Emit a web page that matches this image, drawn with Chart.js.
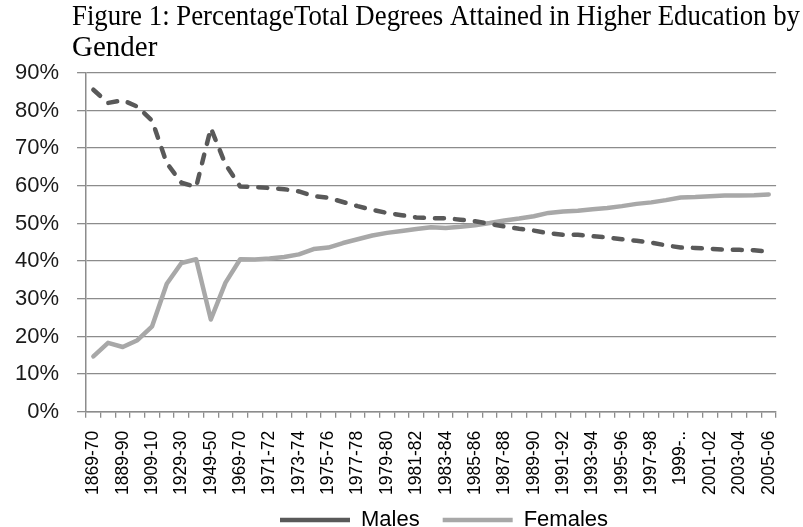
<!DOCTYPE html>
<html>
<head>
<meta charset="utf-8">
<script src="https://cdn.jsdelivr.net/npm/chart.js@4.4.0/dist/chart.umd.min.js"></script>
<style>
html,body{margin:0;padding:0;background:#ffffff;}
#wrap{width:803px;height:527px;position:relative;}
</style>
</head>
<body>
<div id="wrap"><canvas id="c" width="803" height="527"></canvas></div>
<script>
const titleLines = ["Figure 1: PercentageTotal Degrees Attained in Higher Education by", "Gender"];

const categories = [
  "1869-70","1879-80","1889-90","1899-1900","1909-10","1919-20","1929-30","1939-40","1949-50","1959-60","1969-70",
  "1970-71","1971-72","1972-73","1973-74","1974-75","1975-76","1976-77","1977-78","1978-79","1979-80",
  "1980-81","1981-82","1982-83","1983-84","1984-85","1985-86","1986-87","1987-88","1988-89","1989-90",
  "1990-91","1991-92","1992-93","1993-94","1994-95","1995-96","1996-97","1997-98","1998-99","1999-2000",
  "2000-01","2001-02","2002-03","2003-04","2004-05","2005-06"
];

const males = [
  85.5, 82.0, 82.7, 81.0, 77.3, 66.0, 60.8, 59.7, 75.3, 65.7, 59.8,
  59.7, 59.4, 59.1, 58.5, 57.3, 56.8, 55.7, 54.6, 53.6, 52.8,
  52.2, 51.6, 51.4, 51.4, 51.0, 50.6, 49.9, 49.2, 48.6, 48.1,
  47.4, 47.0, 47.0, 46.6, 46.3, 45.8, 45.4, 44.9, 44.2, 43.6,
  43.5, 43.3, 43.0, 43.0, 42.9, 42.5
];

const females = [
  14.7, 18.3, 17.2, 19.0, 22.7, 34.0, 39.5, 40.5, 24.5, 34.3, 40.5,
  40.4, 40.7, 41.1, 41.8, 43.2, 43.6, 44.8, 45.8, 46.8, 47.5,
  48.0, 48.5, 49.0, 48.8, 49.1, 49.5, 50.1, 50.8, 51.3, 51.9,
  52.8, 53.2, 53.4, 53.8, 54.1, 54.6, 55.2, 55.6, 56.2, 56.9,
  57.0, 57.2, 57.4, 57.4, 57.5, 57.7
];

const seriesNames = ["Males", "Females"];
const yTickStep = 10;
const yMax = 90;

function shortLabel(s) {
  return s.length > 7 ? s.slice(0, 5) + '..' : s;
}

const gridColor = '#8c8c8c';
const legendPad = 23;

const placePlugin = {
  id: 'place',
  afterLayout(chart) {
    if (chart.titleBlock) {
      chart.titleBlock.left = 72;
      chart.titleBlock.right = 800;
    }
    if (chart.legend) {
      chart.legend.left = 280 - legendPad;
      chart.legend.top = 486;
    }
  }
};

new Chart(document.getElementById('c'), {
  type: 'line',
  data: {
    labels: categories,
    datasets: [
      {
        label: seriesNames[0],
        data: males,
        borderColor: '#595959',
        backgroundColor: '#595959',
        borderWidth: 4.5,
        borderDash: [9, 11],
        borderCapStyle: 'round',
        borderJoinStyle: 'round',
        pointRadius: 0,
        tension: 0,
        fill: false
      },
      {
        label: seriesNames[1],
        data: females,
        borderColor: '#a8a8a8',
        backgroundColor: '#a8a8a8',
        borderWidth: 4.5,
        borderCapStyle: 'round',
        borderJoinStyle: 'round',
        pointRadius: 0,
        tension: 0,
        fill: false
      }
    ]
  },
  options: {
    responsive: false,
    animation: false,
    devicePixelRatio: 1,
    layout: { padding: { left: -3, right: 25, top: 0, bottom: -36 } },
    plugins: {
      title: {
        display: true,
        text: titleLines,
        align: 'start',
        color: '#000000',
        font: { family: "'Liberation Serif', 'Times New Roman', serif", size: 29, weight: 'normal', lineHeight: 1.1 },
        padding: { top: 1, bottom: 8 }
      },
      legend: {
        display: true,
        position: 'bottom',
        align: 'start',
        labels: {
          usePointStyle: true,
          pointStyle: 'line',
          pointStyleWidth: 70,
          padding: legendPad,
          color: '#000000',
          font: { family: "'Liberation Sans', Arial, sans-serif", size: 22 }
        }
      },
      tooltip: { enabled: false }
    },
    scales: {
      x: {
        type: 'category',
        offset: true,
        grid: {
          offset: true,
          drawOnChartArea: false,
          drawTicks: true,
          tickLength: 6,
          color: gridColor,
          lineWidth: 1.3
        },
        border: { display: true, color: gridColor, width: 1.5 },
        ticks: {
          autoSkip: false,
          maxRotation: 90,
          minRotation: 90,
          padding: 13,
          color: '#000000',
          font: { family: "'Liberation Sans', Arial, sans-serif", size: 17.5 },
          callback: function(value, index) {
            return index % 2 === 0 ? shortLabel(categories[index]) : '';
          }
        }
      },
      y: {
        min: 0,
        max: yMax,
        grid: {
          color: gridColor,
          lineWidth: 1.3,
          drawTicks: true,
          tickLength: 9
        },
        border: { display: true, color: gridColor, width: 1.5 },
        ticks: {
          stepSize: yTickStep,
          padding: 18,
          color: '#1a1a1a',
          font: { family: "'Liberation Sans', Arial, sans-serif", size: 22 },
          callback: function(v) { return v + '%'; }
        }
      }
    }
  },
  plugins: [placePlugin]
});
</script>
</body>
</html>
